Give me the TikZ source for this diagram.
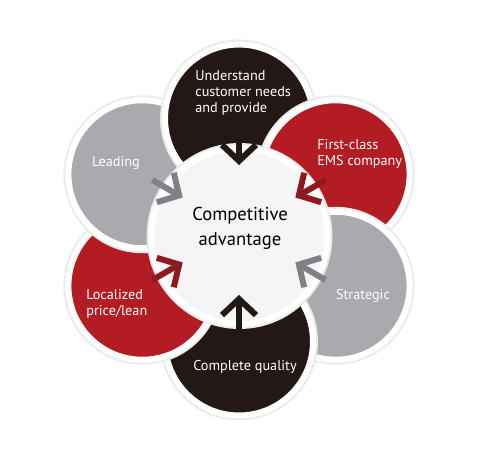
\documentclass[tikz,border=0pt]{standalone}
\usepackage{fontspec}
\setmainfont{PT Sans}
\usetikzlibrary{arrows.meta,calc}
\definecolor{petalDark}{HTML}{231815}
\definecolor{petalRed}{HTML}{B31C23}
\definecolor{petalGrey}{HTML}{A9A9AE}
\definecolor{arrowRed}{HTML}{8E1A20}
\definecolor{arrowGrey}{HTML}{808086}

\begin{document}
\begin{tikzpicture}[x=0.02cm,y=-0.02cm,
  petal/.style={circle,minimum size=2.96cm,line width=0.12cm,draw=white,
    preaction={draw=black!8,line width=0.2cm}},
  petaltext/.style={text=white,font=\fontsize{8.1}{9.2}\selectfont,align=left,inner sep=0pt},
  push/.style={line width=0.12cm,-{Straight Barb[length=0.32cm,width=0.68cm]}}]
\useasboundingbox (0,0) rectangle (500,460);
\coordinate (hub) at (239,230);

\node[petal,fill=petalDark] (understand) at (239,118.5) {};
\node[petal,fill=petalRed] (firstclass) at (335.6,174.25) {};
\node[petal,fill=petalGrey] (strategic) at (335.6,285.75) {};
\node[petal,fill=petalDark] (quality) at (239,341.5) {};
\node[petal,fill=petalRed] (localized) at (142.4,285.75) {};
\node[petal,fill=petalGrey] (leading) at (142.4,174.25) {};
\begin{scope}
\clip (0,0) rectangle (239,200);
\node[petal,fill=petalDark] (understandleft) at (239,118.5) {};
\end{scope}

\node[circle,minimum size=3.52cm,line width=0.12cm,draw=white,fill=black!4,
  preaction={draw=black!8,line width=0.2cm}] (centre) at (239.5,236) {};

\node[petaltext,anchor=west] (understandtext) at (195,93) {Understand\\customer needs\\and provide};
\node[petaltext,anchor=west] (firstclasstext) at (317,153.5) {First-class\\EMS company};
\node[petaltext] (strategictext) at (363,296) {Strategic};
\node[petaltext] (qualitytext) at (245,367) {Complete quality};
\node[petaltext,anchor=west] (localizedtext) at (86,304) {Localized\\price/lean};
\node[petaltext] (leadingtext) at (116,163) {Leading};
\node[align=center,font=\fontsize{10.6}{14.2}\selectfont,inner sep=0pt] (centretext) at (240,228.5)
  {Competitive\\advantage};

\draw[push,petalDark] ($(hub)!2cm!(understand.center)$) -- ($(hub)!1.3cm!(understand.center)$);
\draw[push,arrowRed] ($(hub)!2cm!(firstclass.center)$) -- ($(hub)!1.3cm!(firstclass.center)$);
\draw[push,arrowGrey] ($(hub)!2cm!(strategic.center)$) -- ($(hub)!1.3cm!(strategic.center)$);
\draw[push,petalDark] ($(hub)!2cm!(quality.center)$) -- ($(hub)!1.3cm!(quality.center)$);
\draw[push,arrowRed] ($(hub)!2cm!(localized.center)$) -- ($(hub)!1.3cm!(localized.center)$);
\draw[push,arrowGrey] ($(hub)!2cm!(leading.center)$) -- ($(hub)!1.3cm!(leading.center)$);
\end{tikzpicture}
\end{document}
